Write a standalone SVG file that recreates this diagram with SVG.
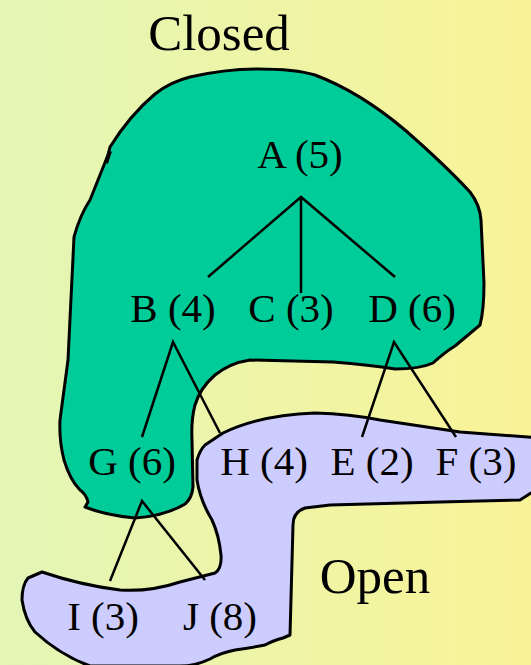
<svg xmlns="http://www.w3.org/2000/svg" width="531" height="665" viewBox="0 0 531 665">
  <defs>
    <linearGradient id="bg" x1="0" y1="0" x2="1" y2="0">
      <stop offset="0" stop-color="#e3f6b6"/>
      <stop offset="1" stop-color="#f9f397"/>
    </linearGradient>
  </defs>
  <style>
    .region { stroke: #000; stroke-width: 3; stroke-linejoin: round; }
    .closed { fill: #00cc99; }
    .open { fill: #ccccff; }
    .edge { stroke: #000; stroke-width: 2.5; fill: none; }
    text { font-family: "Liberation Serif", "Times New Roman", serif; fill: #000; text-anchor: middle; }
    .node text { font-size: 41px; }
    .title { font-size: 51px; }
  </style>

  <rect width="531" height="665" fill="url(#bg)"/>

  <!-- closed set region -->
  <g id="closed-region">
    <path class="region closed" d="M 110,147 Q 130,115 155,94 Q 170,82 190,77 Q 225,69 258,69 Q 295,69 315,75 Q 360,92 405,130 Q 445,165 470,192 Q 480,205 481,220 L 484,283 Q 484,310 480,325 L 455,346 Q 445,352 433,363 Q 420,369 395,369 Q 370,365 333,362 L 250,360 Q 230,363 215,375 Q 200,388 195,405 Q 191,420 192,440 L 193,487 Q 192,498 185,504 Q 165,516 135,518 Q 105,515 85,507 L 88,502 Q 86,494 80,490 Q 70,480 64,460 Q 59,440 60,420 L 68,360 L 74,237 Q 80,215 90,200 L 108,155 Z"/>
    <path d="M 106,163 L 110,151" stroke="#000" stroke-width="4"/>
  </g>

  <!-- open set region -->
  <g id="open-region">
    <path class="region open" d="M 223,433 Q 260,415 315,413 Q 350,414 380,420 L 460,432 L 540,438 L 540,492 L 531,493 L 520,500 L 440,502 L 330,505 L 305,508 Q 293,512 293,525 L 290,635 L 283,638 Q 272,641 265,645 Q 250,648 235,650 Q 220,653 210,659 Q 195,666 180,666 L 90,666 Q 60,655 35,632 Q 25,620 22,600 Q 22,585 28,578 L 42,572 Q 80,585 120,590 Q 150,592 180,582 L 215,573 Q 222,568 221,555 Q 219,535 212,520 Q 200,500 197,480 L 197,460 Q 200,450 205,445 Z"/>
  </g>

  <!-- tree edges -->
  <g id="edges">
    <path class="edge" d="M 208,277 L 301,197 L 395,277 M 301,197 L 301,293"/>
    <path class="edge" d="M 142,437 L 173,342 L 220,433"/>
    <path class="edge" d="M 362,437 L 394,342 L 456,437"/>
    <path class="edge" d="M 110,581 L 142,501 L 205,580"/>
  </g>

  <text class="title" x="219" y="50">Closed</text>
  <text class="title" x="375" y="593">Open</text>

  <g id="node-A" class="node"><text x="300" y="168">A (5)</text></g>
  <g id="node-B" class="node"><text x="173" y="322">B (4)</text></g>
  <g id="node-C" class="node"><text x="291" y="322">C (3)</text></g>
  <g id="node-D" class="node"><text x="412" y="322">D (6)</text></g>
  <g id="node-G" class="node"><text x="132" y="475">G (6)</text></g>
  <g id="node-H" class="node"><text x="264" y="475">H (4)</text></g>
  <g id="node-E" class="node"><text x="372" y="475">E (2)</text></g>
  <g id="node-F" class="node"><text x="476" y="475">F (3)</text></g>
  <g id="node-I" class="node"><text x="103" y="630">I (3)</text></g>
  <g id="node-J" class="node"><text x="220" y="630">J (8)</text></g>
</svg>
